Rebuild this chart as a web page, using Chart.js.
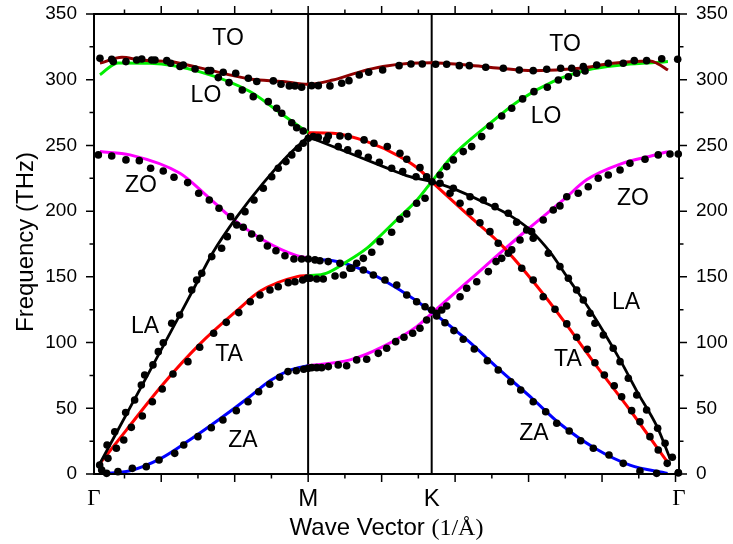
<!DOCTYPE html>
<html>
<head>
<meta charset="utf-8">
<script src="https://cdn.jsdelivr.net/npm/chart.js@4"></script>
<style>
  html, body { margin: 0; padding: 0; background: #fff; }
  canvas { display: block; }
</style>
</head>
<body>
<canvas id="dispersion" width="733" height="544"></canvas>
<script>
// path Γ-M-K-Γ, wave vector in 1/Å
const kPoints = [0, 1.4747, 2.3257, 4.029];
const kLabels = ['Γ', 'M', 'K', 'Γ'];
const waveMajor = [0.463, 0.969, 1.475, 1.981, 2.487, 2.993, 3.499, 4.005];
const waveMinor = [0.210, 0.716, 1.222, 1.728, 2.234, 2.740, 3.246, 3.752];
const freqTicks = [0, 50, 100, 150, 200, 250, 300, 350];
const freqMinor = [25, 75, 125, 175, 225, 275, 325];

// calculated branches [k, THz], one array per coloured piece
const maroonPath = [[0.041,312.6],[0.193,317],[0.317,315],[0.523,313.8],[0.730,309],[1.074,300.6],[1.302,298.6],[1.475,296.5],[1.646,299.8],[1.832,306],[1.990,310],[2.176,312.5],[2.326,313],[2.569,311.2],[2.796,308.7],[3.023,306.9],[3.347,308.7],[3.574,312.5],[3.829,314.3],[3.878,312.5],[3.953,307.4]];
const greenGM = [[0.041,303.7],[0.165,312.8],[0.386,312.5],[0.730,306],[1.074,291],[1.267,276],[1.419,264],[1.475,259.7]];
const greenMG = [[1.475,150.7],[1.598,152.7],[1.742,161.6],[1.880,171.8],[1.990,183.2],[2.107,195.8],[2.225,208.5],[2.326,222.5],[2.465,241.5],[2.700,264.3],[2.934,284.6],[3.161,298.6],[3.395,307.4],[3.629,311.2],[3.857,313],[3.953,313.8]];
const redGM = [[0.041,8.1],[0.220,33],[0.465,67],[0.730,99],[1.002,126],[1.143,139],[1.398,150.2],[1.475,150.9]];
const redMG = [[1.475,259.7],[1.646,259.3],[1.880,252.9],[2.107,241.5],[2.245,231.3],[2.326,222.4],[2.590,195.8],[2.817,173],[3.072,140],[3.230,117.2],[3.464,81.7],[3.691,48.7],[3.953,8.6]];
const blackGM = [[0.041,8.1],[0.248,50.5],[0.455,92.9],[0.682,140],[0.820,168.7],[0.985,195.8],[1.164,221.2],[1.329,241.5],[1.475,256.7]];
const blackMG = [[1.475,256.7],[1.763,244],[1.993,233.9],[2.176,226.2],[2.326,222.4],[2.465,217.5],[2.680,207],[2.875,196],[3.003,185.7],[3.140,169],[3.257,150.2],[3.416,124.8],[3.623,86.8],[3.740,62.7],[3.878,36],[3.967,11.9]];
const blueGM = [[0.062,0.3],[0.248,2.5],[0.455,11.5],[0.661,26],[0.868,42],[1.074,59],[1.212,71],[1.350,79],[1.475,82.4]];
const blueMG = [[1.475,163.4],[1.646,162.3],[1.880,154],[2.107,140],[2.326,123.5],[2.569,102],[2.796,79],[3.023,57],[3.205,38.6],[3.450,19.6],[3.691,6.8],[3.950,0.5]];
const magentaGM = [[0.041,245.3],[0.248,242.8],[0.592,228.8],[0.764,213],[0.937,195.8],[1.165,178],[1.396,166.1],[1.475,164.5]];
const magentaMG = [[1.475,82.4],[1.763,86.8],[1.990,96.9],[2.222,112.1],[2.326,122.3],[2.550,144],[2.770,165.5],[2.989,186.4],[3.232,208.5],[3.395,224],[3.629,236],[3.857,242.5],[3.953,245.3]];

// measured frequencies [k, THz]
const dotsTO = [[0.041,316.3],[0.122,315.6],[0.220,313.8],[0.294,315],[0.397,315],[0.501,314.5],[0.592,310],[0.696,308.2],[0.787,306.9],[0.890,305.7],[0.976,304.9],[1.063,301.1],[1.121,298.6],[1.235,299.1],[1.288,296.6],[1.345,295.3],[1.384,295.3],[1.430,294.3],[1.499,295.5],[1.545,295.5],[1.625,295.3],[1.706,297.3],[1.756,299.3],[1.827,303.6],[1.892,305.7],[1.988,307.4],[2.101,310.7],[2.183,312],[2.261,312],[2.353,311.8],[2.429,311.8],[2.516,310.7],[2.585,310.7],[2.698,309.5],[2.819,308.7],[2.929,307.4],[3.025,306.9],[3.118,308],[3.214,308.7],[3.290,308.7],[3.370,310],[3.542,312.5],[3.645,312.5],[3.721,314.5],[3.806,314.5],[3.910,316],[4.020,315.6]];
const dotsLO = [[0.133,313.8],[0.329,315.8],[0.420,315],[0.528,312.5],[0.615,311.2],[0.804,306.9],[0.856,301.6],[0.930,297.8],[1.021,292.2],[1.097,287.1],[1.200,283.3],[1.258,278.3],[1.293,274.5],[1.362,267.3],[1.396,263.5],[1.441,261]];
const dotsZO = [[0.030,242.8],[0.122,242],[0.220,239],[0.312,238.4],[0.390,232.6],[0.477,230.6],[0.551,225.8],[0.645,221.7],[0.721,213.6],[0.794,208.5],[0.861,202.2],[0.941,195.8],[1.028,187.7],[1.086,182.6],[1.143,179.4],[1.194,173.5],[1.253,169.9],[1.315,166.1],[1.377,163.6],[1.430,163.6],[1.476,163.6]];
const dotsLA = [[0.039,6.8],[0.090,22.1],[0.143,32.2],[0.218,46.7],[0.280,56.3],[0.326,67.7],[0.349,75.3],[0.406,83],[0.443,93.1],[0.477,99.9],[0.535,114.7],[0.590,121],[0.673,140],[0.707,147.6],[0.742,152.7],[0.811,165.4],[0.879,171.8],[0.918,180.6],[0.983,189.5],[1.040,199.6],[1.102,208.5],[1.166,217.4],[1.224,226.2],[1.269,232.6],[1.322,237.7],[1.362,242.8],[1.407,247.9],[1.441,251.7],[1.476,255.5]];
const dotsTA = [[0.096,11.9],[0.154,19.6],[0.205,25.9],[0.257,35.5],[0.333,44.1],[0.402,55],[0.470,64.7],[0.544,76.1],[0.647,85.5],[0.728,96.4],[0.824,107.1],[0.911,115.4],[0.997,122.8],[1.076,131.1],[1.143,136.2],[1.212,140],[1.269,142.5],[1.338,145.6],[1.384,146.3],[1.437,147.6],[1.469,149]];
const dotsZA = [[0.053,3],[0.087,0.5],[0.165,1.8],[0.264,4.3],[0.360,5.6],[0.448,10.7],[0.556,15.7],[0.618,22.1],[0.716,28.4],[0.808,35.2],[0.888,41.1],[0.980,48.2],[1.061,55],[1.134,62.6],[1.210,68.3],[1.279,73.6],[1.336,77.9],[1.393,78.6],[1.444,79.7],[1.476,80.4]];
const dotsRedMG = [[1.510,256.7],[1.545,256.2],[1.614,257.2],[1.694,257.2],[1.751,256.7],[1.860,254.2],[1.928,251.7],[2.020,249.2],[2.107,244],[2.154,239.5],[2.245,233.1],[2.291,226.2],[2.383,221.2],[2.452,213.6],[2.521,206],[2.590,199.6],[2.658,191.2],[2.727,184.4],[2.784,175.6],[2.853,168],[2.946,156.5],[3.025,147.6],[3.094,134.9],[3.175,125.3],[3.256,114.2],[3.324,104],[3.397,94.9],[3.450,84.7],[3.515,75.3],[3.583,67.2],[3.634,58.8],[3.703,48.2],[3.760,39.8],[3.829,28.4],[3.886,18.3],[3.948,8.1]];
const dotsBlackMG = [[1.534,256],[1.602,254.2],[1.682,249.1],[1.747,246.6],[1.820,244],[1.889,241],[1.965,237.2],[2.050,232.6],[2.126,230.1],[2.218,226.2],[2.328,222.4],[2.475,217.4],[2.590,211],[2.681,208.5],[2.762,203.4],[2.853,198.4],[2.911,191.5],[2.980,185.7],[3.025,179.4],[3.129,168],[3.209,157.8],[3.267,148.9],[3.324,140],[3.370,132.4],[3.416,122.3],[3.450,114.7],[3.508,105.8],[3.576,95.7],[3.623,85.5],[3.680,72.8],[3.738,60.1],[3.806,48.7],[3.882,34.8],[3.933,23.4],[3.983,12.7],[4.024,1]];
const dotsGreenMG = [[1.488,148.9],[1.534,148.4],[1.579,148.4],[1.660,150.7],[1.717,151.4],[1.775,156.5],[1.809,160.3],[1.855,164.1],[1.913,168.7],[1.970,176.8],[2.050,183.9],[2.107,193.8],[2.154,197.9],[2.222,206],[2.280,209.8],[2.383,227.5],[2.429,233.9],[2.475,239],[2.543,245.3],[2.601,249.1],[2.670,256.7],[2.727,264.8],[2.808,272.4],[2.877,278.3],[2.952,285.4],[3.030,290.9],[3.122,294.3],[3.198,299.8],[3.267,302.3],[3.324,304.9],[3.382,306.7],[3.462,311.2]];
const dotsBlueMG = [[1.522,162.9],[1.556,162.3],[1.613,161.6],[1.694,160.3],[1.763,156.5],[1.855,155.2],[1.924,151.4],[2.004,147.6],[2.085,143.8],[2.154,136.2],[2.222,131.1],[2.280,127.3],[2.326,124.8],[2.360,120.2],[2.417,115.1],[2.479,109.1],[2.543,102.5],[2.619,95.1],[2.709,86.2],[2.784,79.1],[2.870,70.2],[2.939,63.9],[3.025,55],[3.111,47.4],[3.187,38.6],[3.273,32.7],[3.352,25.3],[3.439,19.6],[3.547,14.5],[3.645,8.1],[3.760,2.3],[3.875,0.5],[4.025,1]];
const dotsMagentaMG = [[1.499,80.9],[1.534,80.9],[1.568,80.9],[1.614,81.7],[1.682,83],[1.740,82.4],[1.809,86.8],[1.878,87.3],[1.958,91.8],[2.016,95.7],[2.078,100.7],[2.135,104],[2.195,107.1],[2.245,110.9],[2.291,117.2],[2.360,122.3],[2.395,124.8],[2.429,127.8],[2.521,134.9],[2.567,141.3],[2.636,146.3],[2.716,154],[2.769,161.6],[2.808,164.1],[2.877,170.5],[2.934,178],[3.014,184.4],[3.094,193.3],[3.163,200.9],[3.209,204],[3.256,211],[3.335,213.6],[3.404,218.6],[3.473,225],[3.542,227.5],[3.623,231.3],[3.691,236.4],[3.795,239.5],[3.886,242.8],[3.967,243.5],[4.024,243.5]];

// branch names [text, k, THz]
const branchLabels = [
  ['TO', 0.923, 331], ['TO', 3.244, 326.5],
  ['LO', 0.771, 287.7], ['LO', 3.113, 271.7],
  ['ZO', 0.324, 219.2], ['ZO', 3.712, 209.3],
  ['LA', 0.351, 111.9], ['LA', 3.664, 130.1],
  ['TA', 0.930, 90.6], ['TA', 3.264, 86.8],
  ['ZA', 1.026, 25.1], ['ZA', 3.030, 30.4]
];

const pts = arr => arr.map(([x, y]) => ({ x, y }));

function curve(data, color, width) {
  return {
    data: pts(data), showLine: true, borderColor: color, borderWidth: width,
    pointRadius: 0, cubicInterpolationMode: 'monotone', order: 2
  };
}
function dots(data) {
  return {
    data: pts(data), showLine: false, pointRadius: 3.8, pointHoverRadius: 3.8,
    backgroundColor: '#000', borderWidth: 0, order: 0, clip: false
  };
}
function symmetryLine(k) {
  const top = freqTicks[freqTicks.length - 1];
  return {
    data: [{ x: k, y: freqTicks[0] }, { x: k, y: top }], showLine: true,
    borderColor: '#000', borderWidth: 2, pointRadius: 0, order: 3
  };
}

const SANS = 'Liberation Sans, Arial, sans-serif';
const SERIF = 'Liberation Serif, Times New Roman, serif';

// frame, outer ticks, titles and branch names
const axisDecor = {
  id: 'axisDecor',
  afterDraw(chart) {
    const { ctx, chartArea: a, scales: { x, y } } = chart;
    ctx.save();
    ctx.strokeStyle = '#000';
    ctx.lineWidth = 1.5;
    ctx.beginPath();
    const tickX = (v, len) => {
      const px = x.getPixelForValue(v);
      ctx.moveTo(px, a.bottom); ctx.lineTo(px, a.bottom + len);
      ctx.moveTo(px, a.top); ctx.lineTo(px, a.top - len);
    };
    const tickY = (v, len) => {
      const py = y.getPixelForValue(v);
      ctx.moveTo(a.left, py); ctx.lineTo(a.left - len, py);
      ctx.moveTo(a.right, py); ctx.lineTo(a.right + len, py);
    };
    waveMajor.forEach(v => tickX(v, 8));
    waveMinor.forEach(v => tickX(v, 4.5));
    freqTicks.forEach(v => tickY(v, 8));
    freqMinor.forEach(v => tickY(v, 4.5));
    ctx.stroke();

    ctx.lineWidth = 2;
    ctx.strokeRect(a.left, a.top, a.right - a.left, a.bottom - a.top);

    ctx.fillStyle = '#000';
    ctx.textAlign = 'center';
    ctx.textBaseline = 'middle';
    ctx.font = '23px ' + SANS;
    branchLabels.forEach(([t, k, f]) => {
      ctx.fillText(t, x.getPixelForValue(k), y.getPixelForValue(f));
    });

    // x title: sans words, serif unit
    const part1 = 'Wave Vector ', part2 = '(1/Å)';
    ctx.textBaseline = 'alphabetic';
    ctx.textAlign = 'left';
    ctx.font = '24px ' + SANS;
    const w1 = ctx.measureText(part1).width;
    ctx.font = '24px ' + SERIF;
    const w2 = ctx.measureText(part2).width;
    const x0 = (a.left + a.right) / 2 - (w1 + w2) / 2;
    ctx.font = '24px ' + SANS;
    ctx.fillText(part1, x0, 535);
    ctx.font = '24px ' + SERIF;
    ctx.fillText(part2, x0 + w1, 535);

    // y title
    ctx.translate(26, 242);
    ctx.rotate(-Math.PI / 2);
    ctx.textAlign = 'center';
    ctx.textBaseline = 'middle';
    ctx.font = '24px ' + SANS;
    ctx.fillText('Frequency (THz)', 0, 0);
    ctx.restore();
  }
};

const freqAxis = (position, width) => ({
  type: 'linear', position, min: freqTicks[0], max: freqTicks[freqTicks.length - 1],
  grid: { display: false, drawTicks: false }, border: { display: false },
  afterBuildTicks: s => { s.ticks = freqTicks.map(v => ({ value: v })); },
  afterFit: s => { s.width = width; s.paddingTop = 0; s.paddingBottom = 0; },
  ticks: { padding: 17, color: '#000', font: { family: SANS, size: 19 } }
});

new Chart(document.getElementById('dispersion'), {
  type: 'scatter',
  data: {
    datasets: [
      symmetryLine(kPoints[1]), symmetryLine(kPoints[2]),
      curve(blackGM, '#000', 2.8), curve(blackMG, '#000', 2.8),
      curve(maroonPath, '#8e0000', 3),
      curve(greenGM, '#00ee00', 3), curve(greenMG, '#00ee00', 3),
      curve(redGM, '#ff0000', 3), curve(redMG, '#ff0000', 3),
      curve(blueGM, '#0000ff', 3), curve(blueMG, '#0000ff', 3),
      curve(magentaGM, '#ff00ff', 3), curve(magentaMG, '#ff00ff', 3),
      dots(dotsTO), dots(dotsLO), dots(dotsZO), dots(dotsLA), dots(dotsTA), dots(dotsZA),
      dots(dotsRedMG), dots(dotsBlackMG), dots(dotsGreenMG), dots(dotsBlueMG), dots(dotsMagentaMG)
    ]
  },
  options: {
    responsive: false,
    animation: false,
    devicePixelRatio: 1,
    layout: { padding: { top: 14, left: 0, right: 0, bottom: 0 } },
    plugins: { legend: { display: false }, tooltip: { enabled: false } },
    scales: {
      x: {
        type: 'linear', position: 'bottom', min: kPoints[0], max: kPoints[3],
        grid: { display: false, drawTicks: false }, border: { display: false },
        afterBuildTicks: s => { s.ticks = kPoints.map(v => ({ value: v })); },
        afterFit: s => { s.height = 70; s.paddingLeft = 0; s.paddingRight = 0; },
        ticks: {
          autoSkip: false, maxRotation: 0, padding: 11, color: '#000',
          callback: (v, i) => kLabels[i],
          font: c => (c.index === 0 || c.index === 3)
            ? { family: SERIF, size: 23 }
            : { family: SANS, size: 24 }
        }
      },
      y: freqAxis('left', 94),
      y2: freqAxis('right', 54)
    }
  },
  plugins: [axisDecor]
});
</script>
</body>
</html>
